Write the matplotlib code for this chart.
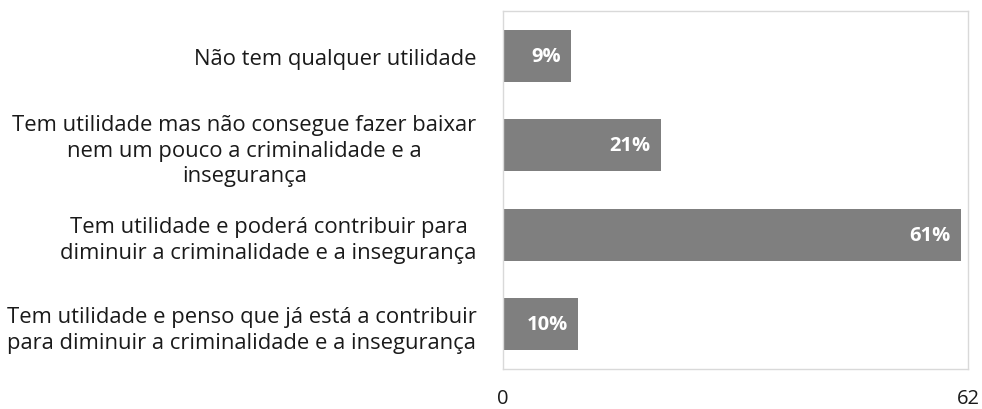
import matplotlib.pyplot as plt

categories = [
    "Não tem qualquer utilidade",
    "Tem utilidade mas não consegue fazer baixar\nnem um pouco a criminalidade e a\ninsegurança",
    "Tem utilidade e poderá contribuir para\ndiminuir a criminalidade e a insegurança",
    "Tem utilidade e penso que já está a contribuir\npara diminuir a criminalidade e a insegurança",
]
values = [9, 21, 61, 10]
labels = ["9%", "21%", "61%", "10%"]
x_max = 62

plt.rcParams['font.family'] = ['Open Sans', 'DejaVu Sans']

fig = plt.figure(figsize=(9.82, 4.10), dpi=100)
ax = fig.add_axes([503/982, 1 - 370/410, 465/982, 358/410])

pos = list(range(len(categories)))
ax.barh(pos, values, height=0.58, color='#7f7f7f', zorder=2)
ax.set_ylim(len(categories) - 0.5, -0.5)
ax.set_xlim(0, x_max)

for p, v, lab in zip(pos, values, labels):
    ax.text(v - 1.3, p, lab, ha='right', va='center', color='white',
            fontsize=14.5, fontweight='bold')

ax.set_yticks(pos)
ax.set_yticklabels(categories, fontsize=15.8, color='#1a1a1a',
                   multialignment='center', linespacing=1.3)
ax.set_xticks([0, x_max])
ax.set_xticklabels(["0", str(x_max)], fontsize=14.5, color='#1a1a1a')
ax.tick_params(axis='both', length=0)
ax.tick_params(axis='y', pad=19)
ax.tick_params(axis='x', pad=14)

for s in ax.spines.values():
    s.set_color('#d9d9d9')
    s.set_linewidth(1)

fig.savefig('out.png', dpi=100)
